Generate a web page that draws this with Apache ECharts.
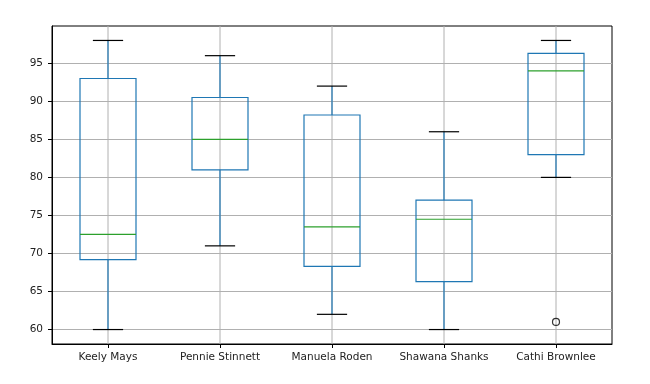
<!DOCTYPE html>
<html>
<head>
<meta charset="utf-8">
<script src="https://cdn.jsdelivr.net/npm/echarts@6/dist/echarts.min.js"></script>
<style>html,body{margin:0;padding:0;background:#fff;}#c{width:650px;height:384px;}</style>
</head>
<body>
<div id="c"></div>
<script>
const categories = ['Keely Mays', 'Pennie Stinnett', 'Manuela Roden', 'Shawana Shanks', 'Cathi Brownlee'];
const whiskerLow = [60, 71, 62, 60, 80];
const q1 = [69.2, 81, 68.3, 66.3, 83];
const median = [72.5, 85, 73.5, 74.5, 94];
const q3 = [93, 90.5, 88.2, 77, 96.3];
const whiskerHigh = [98, 96, 92, 86, 98];
const outliers = [[4, 61]];
const yTicks = [60, 65, 70, 75, 80, 85, 90, 95];
const yMin = 58.1, yMax = 99.9;

const boxData = categories.map((c, i) => [i, whiskerLow[i], q1[i], median[i], q3[i], whiskerHigh[i]]);
const gridData = categories.map((c, i) => [i]);

const chart = echarts.init(document.getElementById('c'), null, {renderer: 'canvas'});
const FONT = 'DejaVu Sans';
chart.setOption({
  animation: false,
  backgroundColor: '#fff',
  grid: {left: 52, right: 38, top: 26, bottom: 40, show: true, borderColor: '#000', borderWidth: 1, backgroundColor: 'transparent'},
  xAxis: {
    type: 'category',
    data: categories,
    boundaryGap: true,
    axisLine: {show: true, lineStyle: {color: '#000', width: 1}},
    axisTick: {show: true, alignWithLabel: true, interval: 0, length: 4, lineStyle: {color: '#000'}},
    axisLabel: {fontFamily: FONT, fontSize: 10.5, color: '#222', margin: 8, interval: 0, hideOverlap: false},
    splitLine: {show: false}
  },
  yAxis: {
    type: 'value',
    min: yMin,
    max: yMax,
    axisLine: {show: true, lineStyle: {color: '#000', width: 1}},
    axisTick: {show: true, length: 4, lineStyle: {color: '#000'}, customValues: yTicks},
    axisLabel: {fontFamily: FONT, fontSize: 10.5, color: '#222', margin: 9, customValues: yTicks},
    splitLine: {show: true, lineStyle: {color: '#b0b0b0', width: 1}}
  },
  series: [
    {
      type: 'custom',
      z: 1,
      data: gridData,
      encode: {x: 0},
      renderItem: function (params, api) {
        const i = api.value(0);
        const top = api.coord([i, yMax]);
        const bot = api.coord([i, yMin]);
        return {type: 'line', shape: {x1: top[0], y1: top[1], x2: bot[0], y2: bot[1]}, style: {stroke: '#b0b0b0', lineWidth: 1}};
      }
    },
    {
      type: 'custom',
      z: 3,
      data: boxData,
      encode: {x: 0, y: [1, 2, 3, 4, 5]},
      renderItem: function (params, api) {
        const i = api.value(0);
        const bw = api.size([1, 0])[0];
        const half = bw * 0.25;
        const cap = bw * 0.135;
        const pLow = api.coord([i, api.value(1)]);
        const pQ1 = api.coord([i, api.value(2)]);
        const pMed = api.coord([i, api.value(3)]);
        const pQ3 = api.coord([i, api.value(4)]);
        const pHigh = api.coord([i, api.value(5)]);
        const x = pMed[0];
        const blue = '#1f77b4';
        return {
          type: 'group',
          children: [
            {type: 'line', shape: {x1: x, y1: pQ1[1], x2: x, y2: pLow[1]}, style: {stroke: blue, lineWidth: 1.2}},
            {type: 'line', shape: {x1: x, y1: pQ3[1], x2: x, y2: pHigh[1]}, style: {stroke: blue, lineWidth: 1.2}},
            {type: 'line', shape: {x1: x - cap, y1: pLow[1], x2: x + cap, y2: pLow[1]}, style: {stroke: '#000', lineWidth: 1.2}},
            {type: 'line', shape: {x1: x - cap, y1: pHigh[1], x2: x + cap, y2: pHigh[1]}, style: {stroke: '#000', lineWidth: 1.2}},
            {type: 'rect', shape: {x: x - half, y: pQ3[1], width: half * 2, height: pQ1[1] - pQ3[1]}, style: {stroke: blue, fill: 'none', lineWidth: 1.2}},
            {type: 'line', shape: {x1: x - half, y1: pMed[1], x2: x + half, y2: pMed[1]}, style: {stroke: '#2ca02c', lineWidth: 1.2}}
          ]
        };
      }
    },
    {
      type: 'scatter',
      z: 4,
      data: outliers,
      symbol: 'circle',
      symbolSize: 7,
      itemStyle: {color: 'rgba(255,255,255,0)', borderColor: '#000', borderWidth: 1.2}
    }
  ]
});
</script>
</body>
</html>
